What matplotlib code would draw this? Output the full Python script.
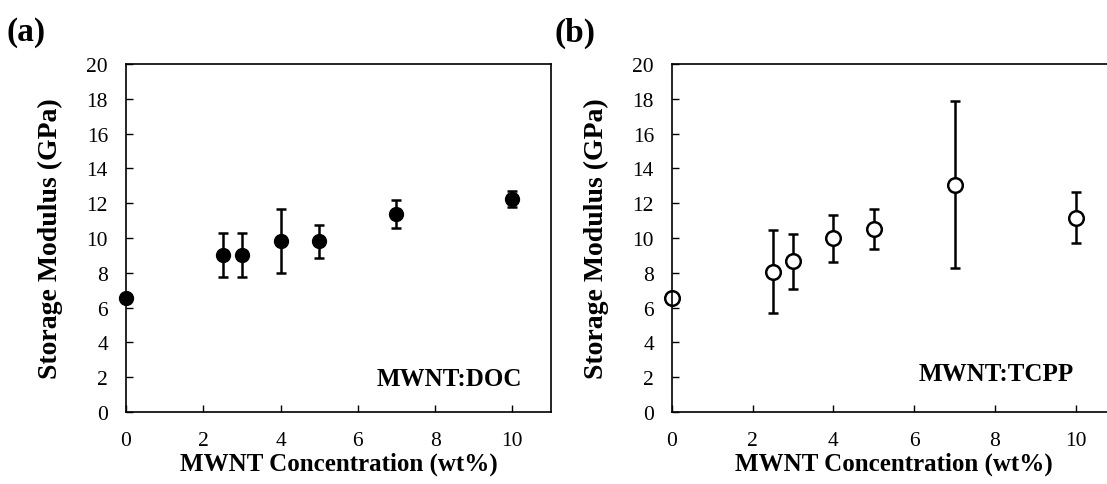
import matplotlib.pyplot as plt

plt.rcParams['font.family'] = 'Liberation Serif'

# MWNT loading (wt%)
conc = [0, 2.5, 3, 4, 5, 7, 10]

# storage modulus (GPa) and error, DOC dispersant
doc_mod = [6.58, 9.02, 9.02, 9.8, 9.8, 11.4, 12.23]
doc_err = [0.15, 1.28, 1.28, 1.84, 0.95, 0.8, 0.45]

# storage modulus (GPa) and error, TCPP dispersant
tcpp_mod = [6.58, 8.07, 8.65, 9.98, 10.52, 13.05, 11.17]
tcpp_err = [0.2, 2.38, 1.6, 1.37, 1.14, 4.8, 1.45]

fig = plt.figure(figsize=(11.07, 4.85), dpi=100)
ax1 = fig.add_axes([126/1107, 1-413/485, 425/1107, 348/485])
ax2 = fig.add_axes([672/1107, 1-413/485, 444/1107, 348/485])

ax1.errorbar(conc, doc_mod, yerr=doc_err, fmt='o', color='black', ms=10,
             elinewidth=1.8, capsize=3.5, capthick=1.8, clip_on=False)
ax2.errorbar(conc, tcpp_mod, yerr=tcpp_err, fmt='o', color='black', ms=10.5,
             mfc='white', mew=1.8, elinewidth=1.8, capsize=3.5, capthick=1.8,
             clip_on=False)

for ax in (ax1, ax2):
    ax.set_xlim(0, 11)
    ax.set_ylim(0, 20)
    ax.set_xticks([0, 2, 4, 6, 8, 10])
    ax.set_yticks(range(0, 21, 2))
    ax.tick_params(direction='in', length=5, width=1, labelsize=15.5)
    ax.tick_params(axis='x', pad=14)
    ax.tick_params(axis='y', pad=13)
    for s in ax.spines.values():
        s.set_linewidth(1.2)
    ax.set_xlabel('MWNT Concentration (wt%)', fontsize=18, fontweight='bold', labelpad=1)
    ax.set_ylabel('Storage Modulus (GPa)', fontsize=20, fontweight='bold', labelpad=17)

ax1.text(10.25, 1.95, 'MWNT:DOC', ha='right', va='center', fontsize=18, fontweight='bold')
ax2.text(9.95, 2.2, 'MWNT:TCPP', ha='right', va='center', fontsize=18, fontweight='bold')

fig.text(7/1107, 1-33/485, '(a)', fontsize=24, fontweight='bold', va='center')
fig.text(555/1107, 1-33/485, '(b)', fontsize=24, fontweight='bold', va='center')

fig.savefig('out.png', dpi=100)
